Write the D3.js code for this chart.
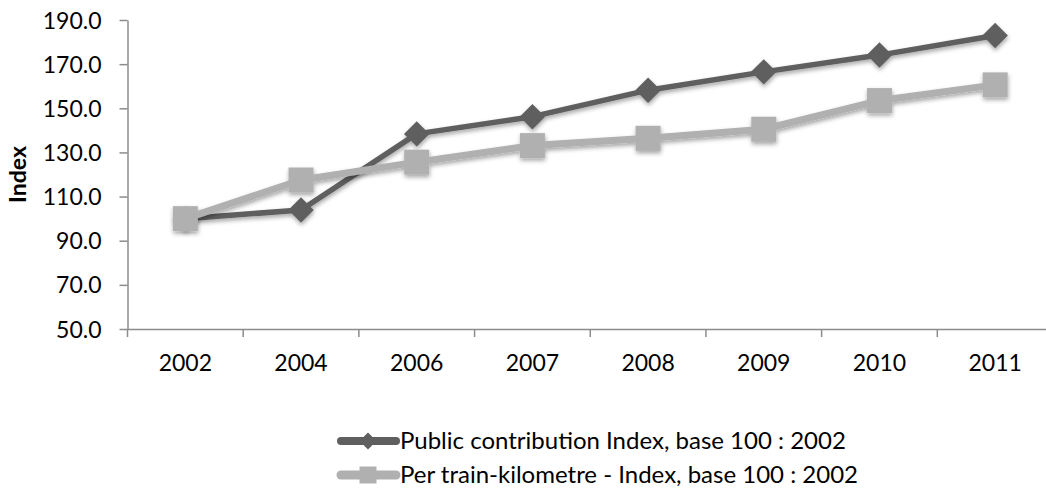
<!DOCTYPE html>
<html>
<head>
<meta charset="utf-8">
<script src="https://cdn.jsdelivr.net/npm/d3@7"></script>
<style>
  html, body { margin: 0; padding: 0; background: #fff; }
  svg { display: block; }
  text { font-family: Lato, "Open Sans", sans-serif; fill: #000; }
</style>
</head>
<body>
<svg id="chart" width="1046" height="489"></svg>
<script>
// Years on the category axis
const years = ["2002", "2004", "2006", "2007", "2008", "2009", "2010", "2011"];
// Public contribution index (2002 = 100)
const publicContribution = [100.0, 103.9, 138.4, 146.2, 158.2, 166.5, 174.1, 183.0];
// Public contribution per train-kilometre index (2002 = 100)
const perTrainKm = [100.0, 117.5, 125.6, 133.1, 136.4, 140.5, 153.5, 160.6];
// Value-axis tick labels
const yTicks = [50, 70, 90, 110, 130, 150, 170, 190];

const seriesNames = [
  "Public contribution Index, base 100 : 2002",
  "Per train-kilometre - Index, base 100 : 2002"
];

const svg = d3.select("#chart");
const axisColor = "#8c8c8c";
const darkColor = "#5f5f5f";
const lightColor = "#b0b0b0";
const tickFont = "23px";

// Soft drop shadow under lines and markers
const defs = svg.append("defs");
const shadow = defs.append("filter").attr("id", "shadow")
  .attr("x", "-20%").attr("y", "-20%").attr("width", "140%").attr("height", "160%");
shadow.append("feDropShadow")
  .attr("dx", 0.5).attr("dy", 2.5).attr("stdDeviation", 2)
  .attr("flood-color", "#000").attr("flood-opacity", 0.35);

const x = d3.scaleBand().domain(years).range([127.5, 1053]).paddingInner(0).paddingOuter(0);
const y = d3.scaleLinear().domain([50, 190]).range([329, 20]);
const cx = d => x(d) + x.bandwidth() / 2;

// Y axis
const yAxis = svg.append("g")
  .attr("transform", `translate(${x.range()[0]},0)`)
  .call(d3.axisLeft(y).tickValues(yTicks).tickFormat(d3.format(".1f")).tickSize(8).tickSizeOuter(0));
yAxis.select(".domain").attr("stroke", axisColor).attr("stroke-width", 1.5);
yAxis.selectAll(".tick line").attr("stroke", axisColor).attr("stroke-width", 1.5);
yAxis.selectAll(".tick text")
  .attr("x", -26).attr("dy", "0.35em")
  .style("font-size", tickFont).style("font-family", "Lato, sans-serif");

// X axis: labels centred in each band, tick marks on band boundaries
const xAxis = svg.append("g")
  .attr("transform", `translate(0,${y(50)})`)
  .call(d3.axisBottom(x).tickSize(0).tickSizeOuter(0));
xAxis.select(".domain").attr("stroke", axisColor).attr("stroke-width", 1.5);
xAxis.selectAll(".tick text")
  .attr("y", 34).attr("dy", "0.35em")
  .style("font-size", tickFont).style("font-family", "Lato, sans-serif");
const boundaries = years.map(d => x(d)).concat([x.range()[1]]);
xAxis.selectAll(".bound").data(boundaries).enter().append("line")
  .attr("class", "bound")
  .attr("x1", d => d).attr("x2", d => d)
  .attr("y1", 0).attr("y2", 8)
  .attr("stroke", axisColor).attr("stroke-width", 1.5);

// Axis title
svg.append("text")
  .attr("transform", `translate(26,${(y(50) + y(190)) / 2}) rotate(-90)`)
  .attr("text-anchor", "middle")
  .style("font-size", "23px").style("font-weight", "bold")
  .text("Index");

// Marker shapes
const diamond = d3.symbol().type(d3.symbolSquare).size(18 * 18);
const square = d3.symbol().type(d3.symbolSquare).size(25 * 25);

const line = d3.line().x(d => cx(d.year)).y(d => y(d.value));

// Dark series first, the light series is painted over it
const series = [
  { name: seriesNames[0], values: publicContribution, color: darkColor, width: 5.5, marker: "diamond" },
  { name: seriesNames[1], values: perTrainKm, color: lightColor, width: 7, marker: "square" }
];

series.forEach(s => {
  const pts = years.map((yr, i) => ({ year: yr, value: s.values[i] }));
  const g = svg.append("g").attr("filter", "url(#shadow)");
  g.append("path")
    .datum(pts)
    .attr("d", line)
    .attr("fill", "none")
    .attr("stroke", s.color)
    .attr("stroke-width", s.width)
    .attr("stroke-linejoin", "round");
  g.selectAll("path.marker").data(pts).enter().append("path")
    .attr("class", "marker")
    .attr("d", s.marker === "diamond" ? diamond : square)
    .attr("transform", d => `translate(${cx(d.year)},${y(d.value)})` + (s.marker === "diamond" ? " rotate(45)" : ""))
    .attr("fill", s.color);
});

// Legend
const legendItems = [
  { name: seriesNames[0], color: darkColor, width: 8, marker: "diamond", yPos: 441 },
  { name: seriesNames[1], color: lightColor, width: 9, marker: "square", yPos: 475 }
];
const legend = svg.append("g");
legendItems.forEach(it => {
  const g = legend.append("g").attr("transform", `translate(0,${it.yPos})`);
  g.append("line")
    .attr("x1", 341).attr("x2", 396).attr("y1", 0).attr("y2", 0)
    .attr("stroke", it.color).attr("stroke-width", it.width).attr("stroke-linecap", "round");
  g.append("path")
    .attr("d", it.marker === "diamond"
      ? d3.symbol().type(d3.symbolSquare).size(12 * 12)()
      : d3.symbol().type(d3.symbolSquare).size(17 * 17)())
    .attr("transform", `translate(368,0)` + (it.marker === "diamond" ? " rotate(45)" : ""))
    .attr("fill", it.color);
  g.append("text")
    .attr("x", 400).attr("dy", "0.35em")
    .style("font-size", "24px")
    .text(it.name);
});
</script>
</body>
</html>
